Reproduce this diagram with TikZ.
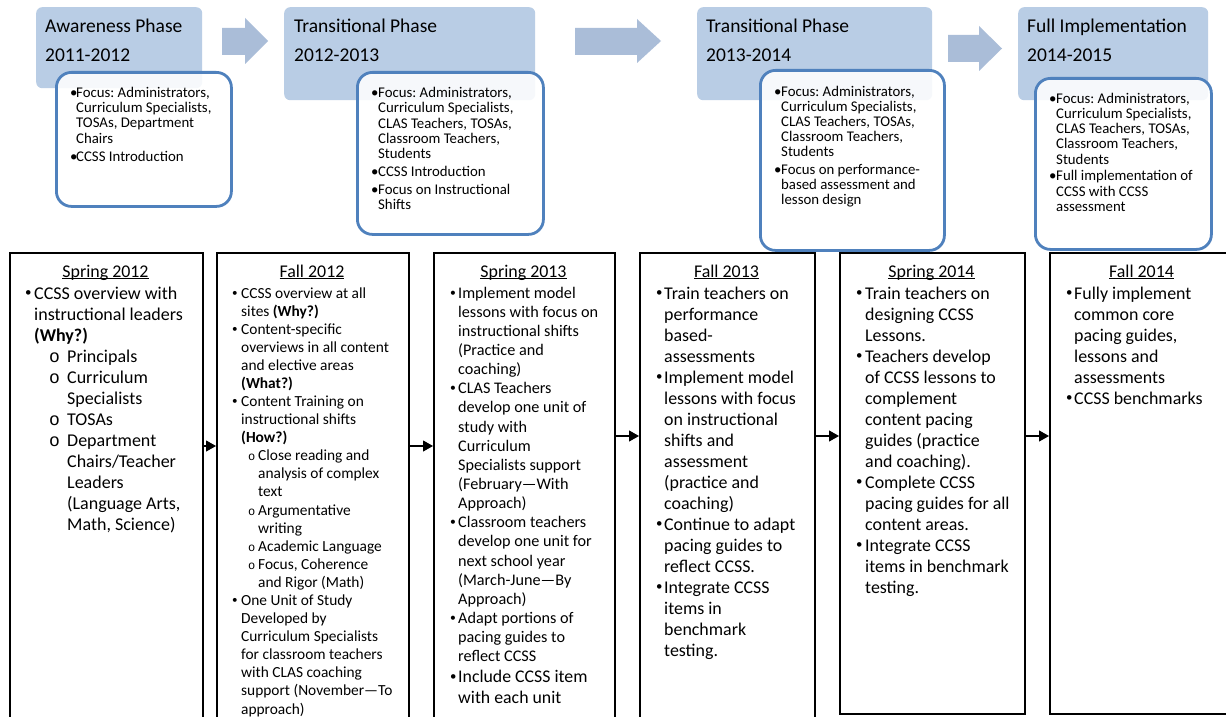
\documentclass[tikz,border=0pt]{standalone}
\usepackage{fontspec}
\setmainfont{Carlito}
\newfontfamily\monof{Liberation Mono}
\usetikzlibrary{arrows.meta}
\definecolor{phasefill}{RGB}{185,205,229}
\definecolor{arrowfill}{RGB}{170,189,216}
\definecolor{boxline}{RGB}{79,129,189}
\newcommand{\Itm}[3]{\par\noindent\hangindent=#2\relax\hangafter=1\relax\makebox[#2][l]{\hspace*{#1}#3}\ignorespaces}
\newcommand{\bul}{•}
\newcommand{\cbul}{\raisebox{0.12em}{\scalebox{0.72}{•}}}
\newcommand{\subbul}{{\monof o}}
\newcommand{\smallsub}{{\monof\fontsize{12}{12}\selectfont o}}
\newcommand{\myul}[1]{\setbox0=\hbox{#1}\rlap{\rule[-2.2pt]{\wd0}{1pt}}\box0}
\frenchspacing
\begin{document}
\frenchspacing
\begin{tikzpicture}[x=1pt,y=-1pt,
  phase/.style={fill=phasefill, draw=none, rounded corners=6pt, anchor=north west, inner sep=0pt},
  detail/.style={draw=boxline, line width=2.8pt, fill=white, fill opacity=0.88, rounded corners=15pt, anchor=north west, inner sep=0pt},
  blockarrow/.style={fill=arrowfill, draw=none},
  colbox/.style={draw=black, line width=2.2pt, fill=white, anchor=north west, inner sep=0pt},
  txt/.style={anchor=base west, inner sep=0pt, text=black},
  head/.style={anchor=base, inner sep=0pt, font=\fontsize{17.9}{21}\selectfont},
  link/.style={draw=black, line width=1.1pt, -{Triangle[length=10pt,width=11pt]}}
]
\useasboundingbox (0,0) rectangle (1226,717);
\clip (0,0) rectangle (1226,717);
\fill[white] (0,0) rectangle (1226,717);

% phase boxes
\node[phase, minimum width=166pt, minimum height=81pt] (p1) at (36,7) {};
\node[phase, minimum width=251pt, minimum height=93pt] (p2) at (284,7) {};
\node[phase, minimum width=235pt, minimum height=93pt] (p3) at (697,7) {};
\node[phase, minimum width=190pt, minimum height=93pt] (p4) at (1018,7) {};

\node[txt] (p1t) at (45,33) {\parbox[t]{160pt}{\fontsize{19.5}{29}\selectfont Awareness Phase\\2011-2012}};
\node[txt] (p2t) at (294,33) {\parbox[t]{200pt}{\fontsize{19.5}{29}\selectfont Transitional Phase\\2012-2013}};
\node[txt] (p3t) at (706,33) {\parbox[t]{200pt}{\fontsize{19.5}{29}\selectfont Transitional Phase\\2013-2014}};
\node[txt] (p4t) at (1027,33) {\parbox[t]{190pt}{\fontsize{19.5}{29}\selectfont Full Implementation\\2014-2015}};

% block arrows
\fill[blockarrow] (222,28) -- (245,28) -- (245,18) -- (268,41) -- (245,64) -- (245,55) -- (222,55) -- cycle;
\fill[blockarrow] (575,28) -- (637,28) -- (637,19) -- (661,41) -- (637,63) -- (637,55) -- (575,55) -- cycle;
\fill[blockarrow] (948,35) -- (979,35) -- (979,26) -- (1002,48.5) -- (979,71) -- (979,62) -- (948,62) -- cycle;

% detail boxes
\node[detail, minimum width=175pt, minimum height=134pt] (d1) at (55,71) {};
\node[detail, minimum width=186pt, minimum height=162pt] (d2) at (356,71) {};
\node[detail, minimum width=184pt, minimum height=180pt] (d3) at (759,69) {};
\node[detail, minimum width=176pt, minimum height=171pt] (d4) at (1034,77) {};

\node[txt] (d1t) at (70,97.5) {\parbox[t]{160pt}{\raggedright\frenchspacing\fontsize{14.8}{15.2}\selectfont\parskip=3.4pt
\Itm{0pt}{6pt}{\bul}Focus: Administrators,\newline Curriculum Specialists,\newline TOSAs, Department\newline Chairs
\Itm{0pt}{6pt}{\bul}CCSS Introduction}};
\node[txt] (d2t) at (371,97.5) {\parbox[t]{170pt}{\raggedright\frenchspacing\fontsize{14.8}{15.3}\selectfont\parskip=2.6pt
\Itm{0pt}{7pt}{\bul}Focus: Administrators,\newline Curriculum Specialists,\newline CLAS Teachers, TOSAs,\newline Classroom Teachers,\newline Students
\Itm{0pt}{7pt}{\bul}CCSS Introduction
\Itm{0pt}{7pt}{\bul}Focus on Instructional\newline Shifts}};
\node[txt] (d3t) at (774,96.7) {\parbox[t]{170pt}{\raggedright\frenchspacing\fontsize{14.8}{15}\selectfont\parskip=2.3pt
\Itm{0pt}{7pt}{\bul}Focus: Administrators,\newline Curriculum Specialists,\newline CLAS Teachers, TOSAs,\newline Classroom Teachers,\newline Students
\Itm{0pt}{7pt}{\bul}Focus on performance-\newline based assessment and\newline lesson design}};
\node[txt] (d4t) at (1049,103.3) {\parbox[t]{170pt}{\raggedright\frenchspacing\fontsize{14.8}{15.2}\selectfont\parskip=1.6pt
\Itm{0pt}{7pt}{\bul}Focus: Administrators,\newline Curriculum Specialists,\newline CLAS Teachers, TOSAs,\newline Classroom Teachers,\newline Students
\Itm{0pt}{7pt}{\bul}Full implementation of\newline CCSS with CCSS\newline assessment}};

% columns
\node[colbox, minimum width=193pt, minimum height=480pt] (c1) at (9,252) {};
\node[colbox, minimum width=192pt, minimum height=480pt] (c2) at (216,252) {};
\node[colbox, minimum width=181pt, minimum height=480pt] (c3) at (433,252) {};
\node[colbox, minimum width=175pt, minimum height=480pt] (c4) at (639,252) {};
\node[colbox, minimum width=185pt, minimum height=461pt] (c5) at (839,252) {};
\node[colbox, minimum width=185pt, minimum height=461pt] (c6) at (1049,252) {};

\draw[link] (c1.east |- 0,446) -- (c2.west |- 0,446);
\draw[link] (c2.east |- 0,446) -- (c3.west |- 0,446);
\draw[link] (c3.east |- 0,436) -- (c4.west |- 0,436);
\draw[link] (c4.east |- 0,436) -- (c5.west |- 0,436);
\draw[link] (c5.east |- 0,436) -- (c6.west |- 0,436);

% headings
\node[head] (h1) at (105.5,277) {\myul{Spring 2012}};
\node[head] (h2) at (312,277) {\myul{Fall 2012}};
\node[head] (h3) at (523.5,277) {\myul{Spring 2013}};
\node[head] (h4) at (726.5,277) {\myul{Fall 2013}};
\node[head] (h5) at (931.5,277) {\myul{Spring 2014}};
\node[head] (h6) at (1141.5,277) {\myul{Fall 2014}};

% column bodies
\node[txt] (b1) at (25,299) {\parbox[t]{175pt}{\raggedright\fontsize{18}{21}\selectfont
\Itm{0pt}{9pt}{\cbul}CCSS overview with\newline instructional leaders\newline \textbf{(Why?)}
\Itm{24pt}{42pt}{\subbul}Principals
\Itm{24pt}{42pt}{\subbul}Curriculum\newline Specialists
\Itm{24pt}{42pt}{\subbul}TOSAs
\Itm{24pt}{42pt}{\subbul}Department\newline Chairs/Teacher\newline Leaders\newline (Language Arts,\newline Math, Science)}};

\node[txt] (b2) at (232,298) {\parbox[t]{175pt}{\raggedright\fontsize{15.4}{18.09}\selectfont
\Itm{0pt}{9pt}{\cbul}CCSS overview at all\newline sites \textbf{(Why?)}
\Itm{0pt}{9pt}{\cbul}Content-specific\newline overviews in all content\newline and elective areas\newline \textbf{(What?)}
\Itm{0pt}{9pt}{\cbul}Content Training on\newline instructional shifts\newline \textbf{(How?)}
\Itm{16pt}{26pt}{\smallsub}Close reading and\newline analysis of complex\newline text
\Itm{16pt}{26pt}{\smallsub}Argumentative\newline writing
\Itm{16pt}{26pt}{\smallsub}Academic Language
\Itm{16pt}{26pt}{\smallsub}Focus, Coherence\newline and Rigor (Math)
\Itm{0pt}{9pt}{\cbul}One Unit of Study\newline Developed by\newline Curriculum Specialists\newline for classroom teachers\newline with CLAS coaching\newline support (November—To\newline approach)}};

\node[txt] (b3) at (450,298) {\parbox[t]{165pt}{\raggedright\fontsize{16.2}{19.15}\selectfont
\Itm{0pt}{8pt}{\cbul}Implement model\newline lessons with focus on\newline instructional shifts\newline (Practice and\newline coaching)
\Itm{0pt}{8pt}{\cbul}CLAS Teachers\newline develop one unit of\newline study with\newline Curriculum\newline Specialists support\newline (February—With\newline Approach)
\Itm{0pt}{8pt}{\cbul}Classroom teachers\newline develop one unit for\newline next school year\newline (March-June—By\newline Approach)
\Itm{0pt}{8pt}{\cbul}Adapt portions of\newline pacing guides to\newline reflect CCSS
\par\fontsize{17.8}{20.6}\selectfont
\Itm{0pt}{8pt}{\cbul}Include CCSS item\newline with each unit}};

\node[txt] (b4) at (656,299) {\parbox[t]{158pt}{\raggedright\fontsize{17.9}{21}\selectfont
\Itm{0pt}{8pt}{\cbul}Train teachers on\newline performance\newline based-\newline assessments
\Itm{0pt}{8pt}{\cbul}Implement model\newline lessons with focus\newline on instructional\newline shifts and\newline assessment\newline (practice and\newline coaching)
\Itm{0pt}{8pt}{\cbul}Continue to adapt\newline pacing guides to\newline reflect CCSS.
\Itm{0pt}{8pt}{\cbul}Integrate CCSS\newline items in\newline benchmark\newline testing.}};

\node[txt] (b5) at (856,299) {\parbox[t]{168pt}{\raggedright\fontsize{17.9}{21}\selectfont
\Itm{0pt}{9pt}{\cbul}Train teachers on\newline designing CCSS\newline Lessons.
\Itm{0pt}{9pt}{\cbul}Teachers develop\newline of CCSS lessons to\newline complement\newline content pacing\newline guides (practice\newline and coaching).
\Itm{0pt}{9pt}{\cbul}Complete CCSS\newline pacing guides for all\newline content areas.
\Itm{0pt}{9pt}{\cbul}Integrate CCSS\newline items in benchmark\newline testing.}};

\node[txt] (b6) at (1066,299) {\parbox[t]{160pt}{\raggedright\fontsize{17.9}{21}\selectfont
\Itm{0pt}{8pt}{\cbul}Fully implement\newline common core\newline pacing guides,\newline lessons and\newline assessments
\Itm{0pt}{8pt}{\cbul}CCSS benchmarks}};
\end{tikzpicture}
\end{document}
